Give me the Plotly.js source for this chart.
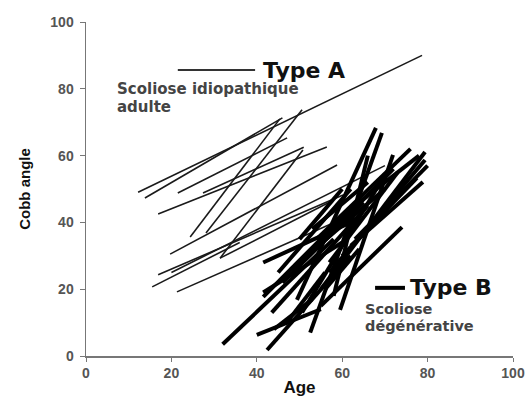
<!DOCTYPE html>
<html><head><meta charset="utf-8">
<script src="https://cdn.plot.ly/plotly-3.0.1.min.js"></script>
<style>html,body{margin:0;padding:0;background:#fff}#chart{width:526px;height:397px}</style>
</head><body><div id="chart"></div>
<script>
// Type A (idiopathic adult scoliosis): first and last visit
const typeAAge0  = [12.2, 13.8, 21.5, 16.9, 27.4, 24.4, 28.1, 19.7, 16.9, 15.5, 21.3, 31.4, 31.4, 20.0];
const typeACobb0 = [49.0, 47.3, 48.8, 42.5, 48.8, 35.6, 36.8, 30.5, 24.3, 20.7, 19.2, 29.3, 29.3, 25.0];
const typeAAge1  = [78.7, 46.0, 47.1, 56.4, 51.0, 45.4, 50.6, 58.8, 60.2, 36.0, 60.0, 50.8, 57.1, 70.0];
const typeACobb1 = [90.0, 71.3, 65.3, 62.6, 62.5, 71.0, 73.7, 57.2, 48.2, 34.0, 41.0, 61.7, 46.1, 57.0];
// Type B (degenerative scoliosis)
const typeBAge0  = [32, 41.5, 41.5, 40, 42.4, 43.5, 44, 50.6, 52.5, 49.4, 59.5, 41.5, 55, 57, 60, 62, 55, 46, 48, 52, 54, 58, 45, 50, 56, 47, 58, 63, 53, 57];
const typeBCobb0 = [3.5, 28, 19, 6.3, 1.8, 13, 8, 13, 7, 16.8, 13.8, 17.7, 20, 25, 30, 33, 15, 22, 26, 30, 35, 40, 25, 35, 20, 10, 18, 35, 38, 28];
const typeBAge1  = [58, 62, 60, 55, 62, 66, 53, 68, 69.3, 67.9, 71.9, 62, 79.4, 79.4, 77.5, 78.9, 74, 65, 70, 72, 76, 78, 62, 60, 64, 56, 66, 80, 66, 73];
const typeBCobb1 = [35, 40, 34, 14, 30, 45, 17, 50, 66.8, 68.3, 60.2, 44, 61.1, 58.7, 53.3, 52.1, 38.6, 46, 50, 56, 62, 60, 50, 50, 32, 25, 60, 57, 52, 55];
const tickValues = [0, 20, 40, 60, 80, 100];

function segs(a0,c0,a1,c1){
  const x=[],y=[];
  for(let i=0;i<a0.length;i++){x.push(a0[i],a1[i],null);y.push(c0[i],c1[i],null);}
  return {x,y};
}
const A=segs(typeAAge0,typeACobb0,typeAAge1,typeACobb1);
const B=segs(typeBAge0,typeBCobb0,typeBAge1,typeBCobb1);
const traces=[
 {x:A.x,y:A.y,mode:'lines',type:'scatter',line:{color:'#1a1a1a',width:1.6},hoverinfo:'skip',connectgaps:false},
 {x:B.x,y:B.y,mode:'lines',type:'scatter',line:{color:'#000',width:4},hoverinfo:'skip',connectgaps:false}
];
const gray='#555';
const wide='DejaVu Sans, Verdana, sans-serif';
const arial='Liberation Sans, Arial, sans-serif';
const tf={family:arial,size:14,color:gray,weight:'bold'};
const layout={
 width:526,height:397,margin:{l:86,r:13,t:22,b:41},
 paper_bgcolor:'#fff',plot_bgcolor:'#fff',showlegend:false,
 xaxis:{range:[0,100],tickvals:tickValues,showgrid:false,zeroline:false,showline:true,linecolor:'#777',linewidth:1.5,
   ticks:'outside',ticklen:4,tickcolor:'#777',tickfont:tf,
   title:{text:'<b>Age</b>',font:{family:arial,size:17,color:'#111'},standoff:2}},
 yaxis:{range:[0,100],tickvals:tickValues,showgrid:false,zeroline:false,showline:true,linecolor:'#777',linewidth:1.5,
   ticks:'outside',ticklen:5,tickcolor:'#777',tickfont:tf,ticklabelstandoff:3,
   title:{text:'<b>Cobb angle</b>',font:{family:arial,size:15,color:'#111'},standoff:16}},
 shapes:[
  {type:'line',x0:21.5,x1:39.6,y0:85.6,y1:85.6,line:{color:'#333',width:2}},
  {type:'line',x0:67.7,x1:74.7,y0:20.4,y1:20.4,line:{color:'#000',width:4}}
 ],
 annotations:[
  {x:41.0,y:85.6,xanchor:'left',yanchor:'middle',text:'<b>Type A</b>',showarrow:false,font:{family:wide,size:22,color:'#111'}},
  {x:6.8,y:80.0,xanchor:'left',yanchor:'middle',text:'<b>Scoliose idiopathique</b>',showarrow:false,font:{family:wide,size:15,color:'#444'}},
  {x:6.8,y:74.7,xanchor:'left',yanchor:'middle',text:'<b>adulte</b>',showarrow:false,font:{family:wide,size:15,color:'#444'}},
  {x:75.5,y:20.4,xanchor:'left',yanchor:'middle',text:'<b>Type B</b>',showarrow:false,font:{family:wide,size:22,color:'#111'}},
  {x:64.9,y:14.0,xanchor:'left',yanchor:'middle',text:'<b>Scoliose</b>',showarrow:false,font:{family:wide,size:14.5,color:'#444'}},
  {x:64.9,y:9.0,xanchor:'left',yanchor:'middle',text:'<b>dégénérative</b>',showarrow:false,font:{family:wide,size:14.5,color:'#444'}}
 ]
};
Plotly.newPlot('chart',traces,layout,{displayModeBar:false,staticPlot:true});
</script></body></html>
